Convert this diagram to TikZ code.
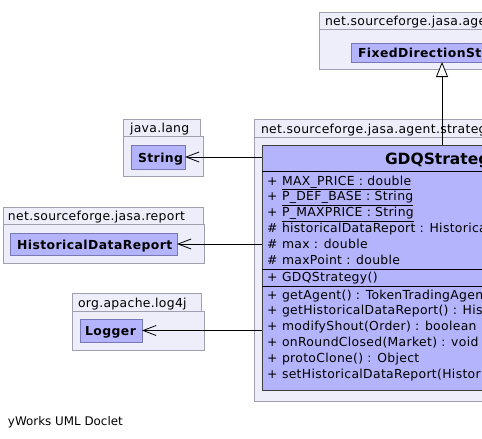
\documentclass[tikz,border=0pt]{standalone}
\usepackage{fontspec}
\setmainfont{DejaVu Sans}
\newfontfamily\spfont[LetterSpace=2.6]{DejaVu Sans}
\newfontfamily\spbfont[LetterSpace=3.5]{DejaVu Sans Bold}
\usetikzlibrary{arrows.meta}
\definecolor{pkgfill}{RGB}{238,238,251}
\definecolor{pkgline}{RGB}{160,160,176}
\definecolor{clsfill}{RGB}{180,180,252}
\definecolor{clsline}{RGB}{120,120,180}
\begin{document}
\begin{tikzpicture}[x=1pt,y=-1pt,
  box/.style={inner sep=0pt, outer sep=0pt, anchor=north west},
  pkg/.style={box, draw=pkgline, fill=pkgfill, line width=0.8pt},
  cls/.style={box, draw=clsline, fill=clsfill, line width=0.8pt},
  maincls/.style={box, draw=black!75, fill=clsfill, line width=0.8pt},
  sepline/.style={line width=0.8pt, black},
  txt/.style={inner sep=0pt, outer sep=0pt, anchor=base west, font=\spfont\fontsize{12.4}{15}\selectfont},
  btxt/.style={txt, font=\spbfont\fontsize{12.4}{15}\selectfont},
  ttl/.style={txt, font=\fontsize{15.5}{18}\selectfont\bfseries},
  foot/.style={txt, font=\fontsize{11.9}{15}\selectfont},
  dep/.style={line width=0.9pt, -{Straight Barb[length=13pt,width=10pt,line width=0.8pt]}},
  inh/.style={line width=0.9pt, -{Triangle[length=15pt,width=12pt,fill=white,line width=0.8pt]}},
]
\useasboundingbox (0,0) rectangle (482,439);
\clip (0,0) rectangle (482,439);

% top package
\node[pkg, minimum width=260pt, minimum height=17pt] (toptab) at (319,12) {};
\node[pkg, minimum width=248pt, minimum height=40pt] (topbody) at (319,29) {};
\node[txt] (toptabt) at (325,25) {net.sourceforge.jasa.agent.strategy};
\node[cls, minimum width=184pt, minimum height=19pt] (fdcls) at (351,43) {};
\node[btxt] (fdclst) at (358,57) {FixedDirectionStrategy};

% main package
\node[pkg, minimum width=290pt, minimum height=18pt] (maintab) at (254,119) {};
\node[pkg, minimum width=376pt, minimum height=264pt] (mainbody) at (254,137) {};
\node[txt] (maintabt) at (261,133) {net.sourceforge.jasa.agent.strategy};
\node[maincls, minimum width=360pt, minimum height=245pt] (gdq) at (262,145) {};
\node[ttl] (gdqt) at (385,164) {GDQStrategy};
\draw[sepline] (262,171) -- (622,171);
\draw[sepline] (262,269) -- (622,269);
\draw[sepline] (262,286) -- (622,286);

\node[txt] (a1v) at (267,185) {+};
\node[txt] (a1) at (282,185) {\underline{MAX\_PRICE : double}};
\node[txt] (a2v) at (267,200.8) {+};
\node[txt] (a2) at (282,200.8) {\underline{P\_DEF\_BASE : String}};
\node[txt] (a3v) at (267,216.6) {+};
\node[txt] (a3) at (282,216.6) {\underline{P\_MAXPRICE : String}};
\node[txt] (a4v) at (267,232.4) {\#};
\node[txt] (a4) at (282,232.4) {historicalDataReport : HistoricalDataReport};
\node[txt] (a5v) at (267,248.2) {\#};
\node[txt] (a5) at (282,248.2) {max : double};
\node[txt] (a6v) at (267,264) {\#};
\node[txt] (a6) at (282,264) {maxPoint : double};

\node[txt] (c1v) at (267,281.5) {+};
\node[txt] (c1) at (282,281.5) {GDQStrategy()};

\node[txt] (m1v) at (267,299) {+};
\node[txt] (m1) at (282,299) {getAgent() : TokenTradingAgent};
\node[txt] (m2v) at (267,314.8) {+};
\node[txt] (m2) at (282,314.8) {getHistoricalDataReport() : HistoricalDataReport};
\node[txt] (m3v) at (267,330.6) {+};
\node[txt] (m3) at (282,330.6) {modifyShout(Order) : boolean};
\node[txt] (m4v) at (267,346.4) {+};
\node[txt] (m4) at (282,346.4) {onRoundClosed(Market) : void};
\node[txt] (m5v) at (267,362.2) {+};
\node[txt] (m5) at (282,362.2) {protoClone() : Object};
\node[txt] (m6v) at (267,378) {+};
\node[txt] (m6) at (282,378) {setHistoricalDataReport(HistoricalDataReport) : void};

% java.lang
\node[pkg, minimum width=77pt, minimum height=17pt] (jltab) at (123,119) {};
\node[pkg, minimum width=80pt, minimum height=40pt] (jlbody) at (123,136) {};
\node[txt] (jltabt) at (130,132) {java.lang};
\node[cls, minimum width=54pt, minimum height=24pt] (strcls) at (131,145) {};
\node[btxt] (strclst) at (138,162) {String};

% report
\node[pkg, minimum width=200pt, minimum height=17pt] (rptab) at (3,207) {};
\node[pkg, minimum width=201pt, minimum height=39pt] (rpbody) at (3,224) {};
\node[txt] (rptabt) at (8,220) {net.sourceforge.jasa.report};
\node[cls, minimum width=167pt, minimum height=22pt] (hdr) at (10,233) {};
\node[btxt] (hdrt) at (17,249) {HistoricalDataReport};

% log4j
\node[pkg, minimum width=129pt, minimum height=18pt] (lgtab) at (72,293) {};
\node[pkg, minimum width=132pt, minimum height=39pt] (lgbody) at (72,311) {};
\node[txt] (lgtabt) at (78,307) {org.apache.log4j};
\node[cls, minimum width=62pt, minimum height=23pt] (logger) at (80,319) {};
\node[btxt] (loggert) at (85,335) {Logger};

% connectors
\draw[dep] (gdq.west |- strcls.east) -- (strcls.east);
\draw[dep] (gdq.west |- hdr.east) -- (hdr.east);
\draw[dep] (gdq.west |- logger.east) -- (logger.east);
\draw[inh] (gdq.north) -- (gdq.north |- fdcls.south);

\node[foot] (footer) at (8,425.5) {yWorks UML Doclet};
\end{tikzpicture}
\end{document}
